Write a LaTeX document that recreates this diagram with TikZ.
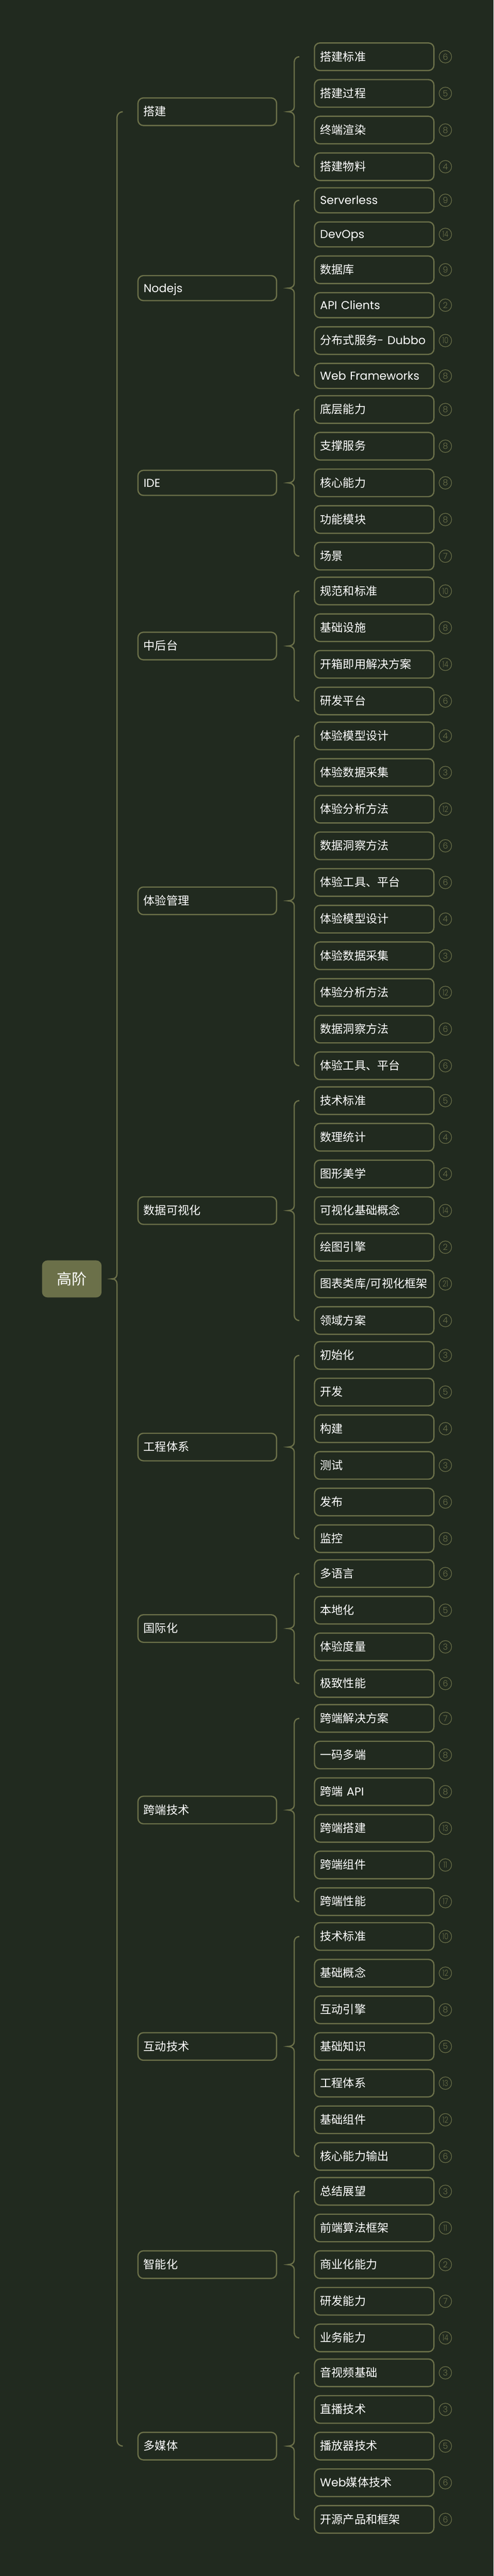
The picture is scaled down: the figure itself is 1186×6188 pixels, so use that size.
\documentclass[tikz,border=0pt]{standalone}
\usepackage{graphicx}
\usepackage{fontspec}
\setmainfont{Poppins}
\newfontfamily\cjk{Noto Sans CJK SC}
\newfontfamily\latf{Poppins}
\IfFontExistsTF{Poppins Light}{\newfontfamily\numf{Poppins Light}}{\newfontfamily\numf{Poppins}}
\usetikzlibrary{calc}
\definecolor{bgc}{HTML}{212A1F}
\definecolor{olv}{HTML}{6B7049}
\newcommand\lat[1]{{\latf #1}}
\newdimen\cury
\cury=101.7pt
\tikzset{
  boxbase/.style={draw=olv, line width=3pt, rounded corners=13pt, inner xsep=13.5pt, inner ysep=0pt,
    align=left, text=white, text height=19.5pt, text depth=0pt, font=\cjk\fontsize{27.5}{30}\selectfont},
  leafbox/.style={boxbase, text width=260pt, anchor=north west},
  midbox/.style={boxbase, text width=306pt},
  badge/.style={circle, draw=olv, line width=1.5pt, minimum size=30pt, inner sep=0pt, text=olv,
    font=\numf\fontsize{20}{20}\selectfont},
  conn/.style={draw=olv, line width=3pt},
  rootbox/.style={fill=olv, rounded corners=13pt, minimum width=143pt, minimum height=89pt, inner sep=0pt,
    text=white, font=\cjk\fontsize{36}{40}\selectfont}
}
\newcommand\leaf[4]{%
  \if#4c\def\hh{66.2}\def\hs{69.2}\else\def\hh{60.1}\def\hs{63.1}\fi
  \node[leafbox, minimum height=\hh pt] (#1) at (754pt,-\the\cury) {#2};
  \node[badge] (#1n) at ($(#1.east)+(26pt,0)$) {\ifnum#3>9 \scalebox{0.78}[1]{#3}\else #3\fi};
  \global\advance\cury by \hs pt
  \global\advance\cury by 18.85pt
}
\newcommand\nextgroup{\global\advance\cury by -4.3pt}
\newcommand\midnode[5]{%
  \if#5c\def\hh{66.2}\else\def\hh{60.1}\fi
  \path let \p1=($(#2.center)!0.5!(#3.center)$) in node[midbox, minimum height=\hh pt] (#1) at (498pt,\y1) {#4};
}
\newcommand\brc[5]{%
  \draw[conn] let \p1=(#2.west), \p2=(#3.west), \p3=(#1.east) in
    (\x1-35pt,\y1) arc[start angle=90,end angle=180,radius=#5]
    -- (\x1-35pt-#5,\y3+12pt)
    .. controls (\x1-35pt-#5,\y3+4pt) and (\x3+#4+8pt,\y3) .. (\x3+#4,\y3)
    .. controls (\x3+#4+8pt,\y3) and (\x1-35pt-#5,\y3-4pt) .. (\x1-35pt-#5,\y3-12pt)
    -- (\x1-35pt-#5,\y2+#5) arc[start angle=180,end angle=270,radius=#5];
}
\begin{document}
\begin{tikzpicture}[x=1pt,y=1pt]
\useasboundingbox (0,0) rectangle (1186,-6188);
\fill[bgc] (0,0) rectangle (1186,-6188);
% 搭建
\leaf{a1}{搭建标准}{6}{c}
\leaf{a2}{搭建过程}{5}{c}
\leaf{a3}{终端渲染}{8}{c}
\leaf{a4}{搭建物料}{4}{c}
\nextgroup
% Nodejs
\leaf{b1}{\lat{Serverless}}{9}{l}
\leaf{b2}{\lat{DevOps}}{14}{l}
\leaf{b3}{数据库}{9}{c}
\leaf{b4}{\lat{API Clients}}{2}{l}
\leaf{b5}{分布式服务\lat{- Dubbo}}{10}{c}
\leaf{b6}{\lat{Web Frameworks}}{8}{l}
\nextgroup
% IDE
\leaf{c1}{底层能力}{8}{c}
\leaf{c2}{支撑服务}{8}{c}
\leaf{c3}{核心能力}{8}{c}
\leaf{c4}{功能模块}{8}{c}
\leaf{c5}{场景}{7}{c}
\nextgroup
% 中后台
\leaf{d1}{规范和标准}{10}{c}
\leaf{d2}{基础设施}{8}{c}
\leaf{d3}{开箱即用解决方案}{14}{c}
\leaf{d4}{研发平台}{6}{c}
\nextgroup
% 体验管理
\leaf{e1}{体验模型设计}{4}{c}
\leaf{e2}{体验数据采集}{3}{c}
\leaf{e3}{体验分析方法}{12}{c}
\leaf{e4}{数据洞察方法}{6}{c}
\leaf{e5}{体验工具、平台}{6}{c}
\leaf{e6}{体验模型设计}{4}{c}
\leaf{e7}{体验数据采集}{3}{c}
\leaf{e8}{体验分析方法}{12}{c}
\leaf{e9}{数据洞察方法}{6}{c}
\leaf{e10}{体验工具、平台}{6}{c}
\nextgroup
% 数据可视化
\leaf{f1}{技术标准}{5}{c}
\leaf{f2}{数理统计}{4}{c}
\leaf{f3}{图形美学}{4}{c}
\leaf{f4}{可视化基础概念}{14}{c}
\leaf{f5}{绘图引擎}{2}{c}
\leaf{f6}{图表类库/可视化框架}{21}{c}
\leaf{f7}{领域方案}{4}{c}
\nextgroup
% 工程体系
\leaf{g1}{初始化}{3}{c}
\leaf{g2}{开发}{5}{c}
\leaf{g3}{构建}{4}{c}
\leaf{g4}{测试}{3}{c}
\leaf{g5}{发布}{6}{c}
\leaf{g6}{监控}{8}{c}
\nextgroup
% 国际化
\leaf{h1}{多语言}{6}{c}
\leaf{h2}{本地化}{5}{c}
\leaf{h3}{体验度量}{3}{c}
\leaf{h4}{极致性能}{6}{c}
\nextgroup
% 跨端技术
\leaf{i1}{跨端解决方案}{7}{c}
\leaf{i2}{一码多端}{8}{c}
\leaf{i3}{跨端 \lat{API}}{8}{c}
\leaf{i4}{跨端搭建}{13}{c}
\leaf{i5}{跨端组件}{11}{c}
\leaf{i6}{跨端性能}{17}{c}
\nextgroup
% 互动技术
\leaf{j1}{技术标准}{10}{c}
\leaf{j2}{基础概念}{12}{c}
\leaf{j3}{互动引擎}{8}{c}
\leaf{j4}{基础知识}{5}{c}
\leaf{j5}{工程体系}{13}{c}
\leaf{j6}{基础组件}{12}{c}
\leaf{j7}{核心能力输出}{6}{c}
\nextgroup
% 智能化
\leaf{k1}{总结展望}{3}{c}
\leaf{k2}{前端算法框架}{11}{c}
\leaf{k3}{商业化能力}{2}{c}
\leaf{k4}{研发能力}{7}{c}
\leaf{k5}{业务能力}{14}{c}
\nextgroup
% 多媒体
\leaf{l1}{音视频基础}{3}{c}
\leaf{l2}{直播技术}{3}{c}
\leaf{l3}{播放器技术}{5}{c}
\leaf{l4}{\lat{Web}媒体技术}{6}{c}
\leaf{l5}{开源产品和框架}{6}{c}
% mid level
\midnode{ma}{a1}{a4}{搭建}{c}
\midnode{mb}{b1}{b6}{\lat{Nodejs}}{l}
\midnode{mc}{c1}{c5}{\lat{IDE}}{l}
\midnode{md}{d1}{d4}{中后台}{c}
\midnode{me}{e1}{e10}{体验管理}{c}
\midnode{mf}{f1}{f7}{数据可视化}{c}
\midnode{mg}{g1}{g6}{工程体系}{c}
\midnode{mh}{h1}{h4}{国际化}{c}
\midnode{mi}{i1}{i6}{跨端技术}{c}
\midnode{mj}{j1}{j7}{互动技术}{c}
\midnode{mk}{k1}{k5}{智能化}{c}
\midnode{ml}{l1}{l5}{多媒体}{c}
\brc{ma}{a1}{a4}{26pt}{12pt}
\brc{mb}{b1}{b6}{26pt}{12pt}
\brc{mc}{c1}{c5}{26pt}{12pt}
\brc{md}{d1}{d4}{26pt}{12pt}
\brc{me}{e1}{e10}{26pt}{12pt}
\brc{mf}{f1}{f7}{26pt}{12pt}
\brc{mg}{g1}{g6}{26pt}{12pt}
\brc{mh}{h1}{h4}{26pt}{12pt}
\brc{mi}{i1}{i6}{26pt}{12pt}
\brc{mj}{j1}{j7}{26pt}{12pt}
\brc{mk}{k1}{k5}{26pt}{12pt}
\brc{ml}{l1}{l5}{26pt}{12pt}
% root
\path let \p1=($(ma.center)!0.5!(ml.center)$) in node[rootbox] (root) at (172.5pt,\y1) {高阶};
\brc{root}{ma}{ml}{24pt}{14pt}
\end{tikzpicture}
\end{document}
